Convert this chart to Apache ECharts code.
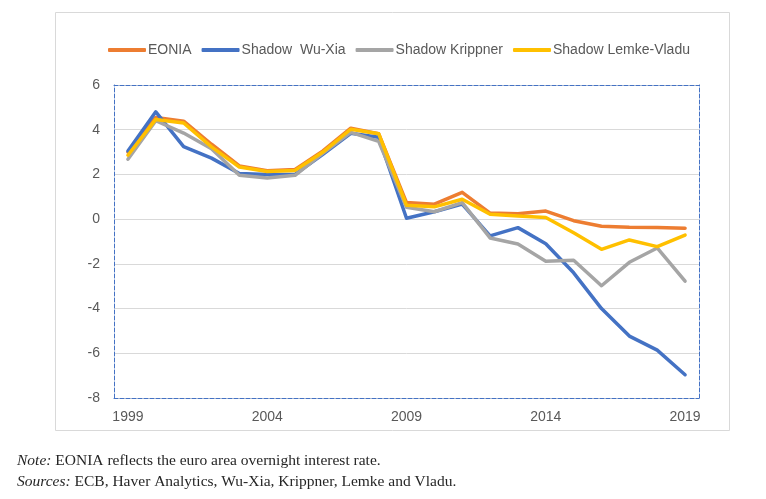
<!DOCTYPE html>
<html>
<head>
<meta charset="utf-8">
<script src="https://cdn.jsdelivr.net/npm/echarts@6/dist/echarts.min.js"></script>
<style>
  html, body { margin: 0; padding: 0; background: #ffffff; }
  #chart { width: 766px; height: 499px; }
</style>
</head>
<body>
<div id="chart"></div>
<script>
const years = ['1999','2000','2001','2002','2003','2004','2005','2006','2007','2008','2009','2010','2011','2012','2013','2014','2015','2016','2017','2018','2019'];
const eonia    = [3.0, 4.55, 4.38, 3.35, 2.38, 2.17, 2.22, 3.05, 4.07, 3.82, 0.74, 0.67, 1.2, 0.27, 0.24, 0.36, -0.07, -0.32, -0.36, -0.37, -0.41];
const wuXia    = [3.05, 4.8, 3.24, 2.73, 2.04, 2.0, 2.0, 2.9, 3.84, 3.66, 0.04, 0.33, 0.67, -0.75, -0.38, -1.1, -2.4, -4.0, -5.23, -5.86, -6.96];
const krippner = [2.68, 4.4, 3.85, 3.15, 1.96, 1.84, 1.96, 2.95, 3.88, 3.48, 0.53, 0.33, 0.74, -0.84, -1.11, -1.88, -1.84, -2.98, -1.93, -1.29, -2.77];
const lemke    = [2.86, 4.46, 4.3, 3.23, 2.33, 2.13, 2.18, 3.0, 4.02, 3.82, 0.62, 0.55, 0.89, 0.22, 0.14, 0.07, -0.61, -1.35, -0.93, -1.23, -0.71];
const seriesNames = ['EONIA', 'Shadow  Wu-Xia', 'Shadow Krippner', 'Shadow Lemke-Vladu'];
const seriesColors = ['#ED7D31', '#4472C4', '#A5A5A5', '#FFC000'];
const seriesData = [eonia, wuXia, krippner, lemke];

const txt = '#595959';
const dashed = { color: '#4472C4', width: 1, type: [4, 2] };

const chart = echarts.init(document.getElementById('chart'), null, { renderer: 'canvas' });
chart.setOption({
  animation: false,
  backgroundColor: '#ffffff',
  textStyle: { fontFamily: 'Liberation Sans' },
  grid: { left: 114, right: 67, top: 85, bottom: 101, containLabel: false },
  legend: {
    top: 43,
    left: 108,
    padding: 0,
    itemWidth: 38,
    itemHeight: 4,
    itemGap: 10,
    icon: 'roundRect',
    textStyle: { color: txt, fontSize: 14, fontFamily: 'Liberation Sans', padding: [0, 0, 0, -3] },
    data: seriesNames
  },
  xAxis: [
    {
      type: 'category',
      data: years,
      boundaryGap: true,
      axisLine: { show: true, onZero: false, lineStyle: dashed },
      axisTick: { show: false },
      axisLabel: { interval: 4, color: txt, fontSize: 14, margin: 12 },
      splitLine: { show: false }
    },
    {
      type: 'category',
      data: years,
      position: 'top',
      axisLine: { show: true, onZero: false, lineStyle: dashed },
      axisTick: { show: false },
      axisLabel: { show: false },
      splitLine: { show: false }
    }
  ],
  yAxis: [
    {
      type: 'value',
      min: -8, max: 6, interval: 2,
      axisLine: { show: true, onZero: false, lineStyle: dashed },
      axisTick: { show: false },
      axisLabel: { color: txt, fontSize: 14, margin: 14 },
      splitLine: { show: true, lineStyle: { color: '#D9D9D9', width: 1 } }
    },
    {
      type: 'value',
      position: 'right',
      min: -8, max: 6, interval: 2,
      axisLine: { show: true, onZero: false, lineStyle: dashed },
      axisTick: { show: false },
      axisLabel: { show: false },
      splitLine: { show: false }
    }
  ],
  series: seriesNames.map((name, i) => ({
    name: name,
    type: 'line',
    data: seriesData[i],
    symbol: 'none',
    smooth: false,
    color: seriesColors[i],
    lineStyle: { width: 3.5, color: seriesColors[i], cap: 'round', join: 'round' },
    z: 2 + i
  })),
  graphic: [
    {
      type: 'rect',
      silent: true,
      shape: { x: 55.5, y: 12.5, width: 674, height: 418 },
      style: { fill: 'none', stroke: '#D9D9D9', lineWidth: 1 }
    },
    {
      type: 'text',
      left: 17,
      top: 453,
      style: {
        text: '{i|Note:} EONIA reflects the euro area overnight interest rate.',
        font: '15.5px "Liberation Serif"',
        fill: '#262626',
        rich: { i: { fontStyle: 'italic', fontFamily: 'Liberation Serif', fontSize: 15.5, fill: '#262626' } }
      }
    },
    {
      type: 'text',
      left: 17,
      top: 474,
      style: {
        text: '{i|Sources:} ECB, Haver Analytics, Wu-Xia, Krippner, Lemke and Vladu.',
        font: '15.5px "Liberation Serif"',
        fill: '#262626',
        rich: { i: { fontStyle: 'italic', fontFamily: 'Liberation Serif', fontSize: 15.5, fill: '#262626' } }
      }
    }
  ]
});
</script>
</body>
</html>
